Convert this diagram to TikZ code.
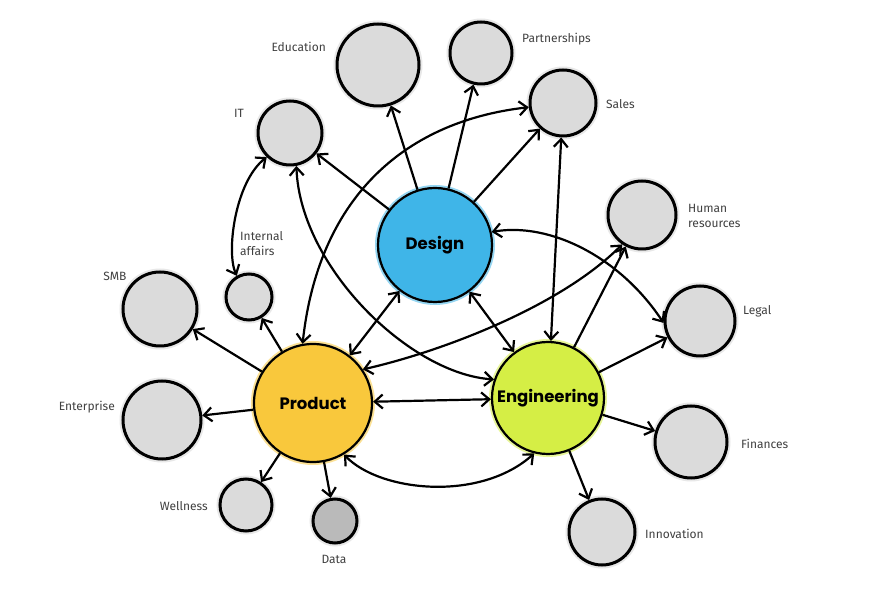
\documentclass[tikz,border=0pt]{standalone}
\usepackage{fontspec}
\setmainfont{Fira Sans}
\newfontfamily\hubfont{Poppins}
\usetikzlibrary{arrows.meta}
\definecolor{designblue}{HTML}{3FB5E8}
\definecolor{productyellow}{HTML}{F9C83C}
\definecolor{enggreen}{HTML}{D5EE45}
\definecolor{bubblegray}{HTML}{DBDBDB}
\definecolor{labelgray}{HTML}{404040}
\tikzset{
	bubble/.style={circle, draw=black, line width=3pt, fill=bubblegray, inner sep=0pt,
		preaction={draw=black!9, line width=7pt}},
	hub/.style={circle, draw=black, line width=2.2pt, inner sep=0pt,
		preaction={draw=#1!55, line width=6pt}, fill=#1,
		font=\hubfont\bfseries\fontsize{16.5}{16}\selectfont},
	tag/.style={font=\fontsize{12}{15}\selectfont, text=labelgray, inner sep=0pt, align=left},
	barb/.tip={Straight Barb[length=8pt, width=14pt]},
	link/.style={line width=2.2pt, -barb},
	twoway/.style={line width=2.2pt, barb-barb},
}

\begin{document}
\begin{tikzpicture}[x=1pt, y=1pt]
			%%%%% START %%%%%
			\useasboundingbox[fill=white] (0, 0) rectangle (895, 592);
			
			\node[hub=designblue, minimum size=114pt] (design) at (435, 347) {Design};
			\node[hub=productyellow, minimum size=118pt] (product) at (313, 189) {Product};
			\node[hub=enggreen, minimum size=112pt] (engineering) at (548, 194) {Engineering};
			
			\node[bubble, minimum size=82pt] (education) at (378, 527) {};
			\node[bubble, minimum size=62pt] (partnerships) at (481, 539) {};
			\node[bubble, minimum size=66pt] (sales) at (563, 489) {};
			\node[bubble, minimum size=64pt] (it) at (290, 459) {};
			\node[bubble, minimum size=46pt] (internal) at (249, 295) {};
			\node[bubble, minimum size=74pt] (smb) at (160, 283) {};
			\node[bubble, minimum size=78pt] (enterprise) at (162, 172) {};
			\node[bubble, minimum size=52pt] (wellness) at (246, 87) {};
			\node[bubble, minimum size=44pt, fill=black!27] (data) at (335, 71) {};
			\node[bubble, minimum size=68pt] (hr) at (642, 377) {};
			\node[bubble, minimum size=70pt] (legal) at (700, 271) {};
			\node[bubble, minimum size=72pt] (finances) at (691, 150) {};
			\node[bubble, minimum size=66pt] (innovation) at (602, 60) {};
			
			\node[tag, anchor=east] (educationtag) at (326, 545) {Education};
			\node[tag, anchor=west] (partnershipstag) at (522, 553) {Partnerships};
			\node[tag, anchor=west] (salestag) at (606, 488) {Sales};
			\node[tag] (ittag) at (239, 479) {IT};
			\node[tag, anchor=west] (internaltag) at (240, 348) {Internal\\affairs};
			\node[tag] (smbtag) at (115, 316) {SMB};
			\node[tag, anchor=east] (enterprisetag) at (115, 185) {Enterprise};
			\node[tag, anchor=east] (wellnesstag) at (208, 86) {Wellness};
			\node[tag] (datatag) at (334, 33) {Data};
			\node[tag, anchor=west] (hrtag) at (688, 376) {Human\\resources};
			\node[tag, anchor=west] (legaltag) at (743, 281) {Legal};
			\node[tag, anchor=west] (financestag) at (741, 148) {Finances};
			\node[tag, anchor=west] (innovationtag) at (645, 58) {Innovation};
			
			%% design
			\draw[link] (design) -- (education);
			\draw[link] (design) -- (partnerships);
			\draw[link] (design) -- (sales);
			\draw[link] (design) -- (it);
			\draw[twoway] (design) -- (product);
			\draw[twoway] (design) -- (engineering);
			\draw[twoway] (design.13) .. controls (550, 370) and (620, 335) .. (legal.183);
			
			%% product
			\draw[twoway] (product) -- (engineering);
			\draw[link] (product) -- (smb);
			\draw[link] (product) -- (enterprise);
			\draw[link] (product) -- (internal);
			\draw[link] (product) -- (wellness);
			\draw[link] (product) -- (data);
			\draw[twoway] (product.100) .. controls (318, 390) and (400, 470) .. (sales.187);
			\draw[twoway] (product.34) .. controls (440, 240) and (560, 285) .. (hr.236);
			\draw[twoway] (product.301) .. controls (380, 100) and (480, 90) .. (engineering.256);
			
			%% engineering
			\draw[link] (engineering) -- (hr);
			\draw[link] (engineering) -- (legal);
			\draw[link] (engineering) -- (finances);
			\draw[link] (engineering) -- (innovation);
			\draw[twoway] (sales) -- (engineering);
			\draw[twoway] (it.281) .. controls (300, 325) and (410, 218) .. (engineering.161);
			\draw[twoway] (it.226) .. controls (235, 410) and (226, 340) .. (internal.120);
			
			%%%%% END %%%%%
\end{tikzpicture}
\end{document}
